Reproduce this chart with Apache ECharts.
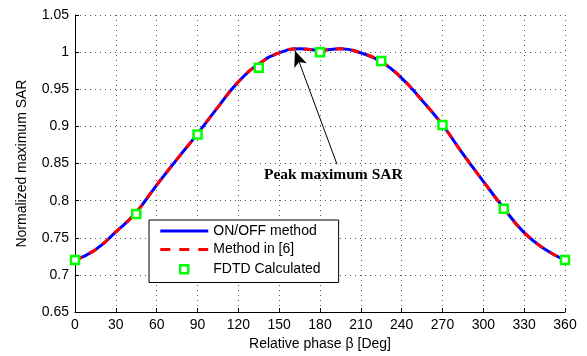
<!DOCTYPE html>
<html>
<head>
<meta charset="utf-8">
<script src="https://cdn.jsdelivr.net/npm/echarts@6/dist/echarts.min.js"></script>
<style>
  html, body { margin: 0; padding: 0; background: #fff; }
  #chart { width: 587px; height: 356px; }
</style>
</head>
<body>
<div id="chart"></div>
<script>
// relative phase (deg) for the analytic curves
const phase = [0, 15, 30, 45, 60, 75, 90, 105, 120, 135, 150, 165, 180,
  195, 210, 225, 240, 255, 270, 285, 300, 315, 330, 345, 360]
// ON/OFF method
const onOff = [0.720, 0.734, 0.758, 0.7845, 0.821, 0.856, 0.890, 0.926, 0.960, 0.984, 0.999, 1.0045, 1.0027,
  1.0045, 0.999, 0.987, 0.965, 0.935, 0.902, 0.863, 0.826, 0.790, 0.757, 0.735, 0.720]
// Method in [6] (overlaps ON/OFF)
const method6 = [0.720, 0.734, 0.758, 0.7845, 0.821, 0.856, 0.890, 0.926, 0.960, 0.984, 0.999, 1.0045, 1.0027,
  1.0045, 0.999, 0.987, 0.965, 0.935, 0.902, 0.863, 0.826, 0.790, 0.757, 0.735, 0.720]
// FDTD samples
const fdtdPhase = [0, 45, 90, 135, 180, 225, 270, 315, 360]
const fdtd = [0.720, 0.782, 0.889, 0.979, 1.000, 0.988, 0.902, 0.789, 0.720]

const xTicks = { min: 0, max: 360, interval: 30 }
const yTicks = { min: 0.65, max: 1.05, interval: 0.05 }

const font = 'Liberation Sans, Arial, sans-serif'
const chart = echarts.init(document.getElementById('chart'))

const zip = (xs, ys) => xs.map((x, i) => [x, ys[i]])

// legend icons drawn inside a 48x14 box (the M0,0 M48,14 pins the box size)
const iconSolid = 'path://M0,0 M48,14 M0,5.5 h48 v3 h-48 Z'
const iconDashed = 'path://M0,0 M48,14 M0,5.5 h10 v3 h-10 Z M19,5.5 h10 v3 h-10 Z M38,5.5 h10 v3 h-10 Z'
const iconSquare = 'path://M0,0 M48,14 M20,3 h8 v8 h-8 Z'

chart.setOption({
  animation: false,
  textStyle: { fontFamily: font, color: '#000' },
  grid: { left: 75, right: 22, top: 15, bottom: 42 },
  xAxis: {
    type: 'value',
    min: xTicks.min, max: xTicks.max, interval: xTicks.interval,
    name: 'Relative phase β [Deg]',
    nameLocation: 'middle',
    nameGap: 24,
    nameTextStyle: { fontSize: 14, color: '#000', fontFamily: font },
    axisLine: { onZero: false, lineStyle: { color: '#000', width: 1 } },
    axisTick: { inside: true, length: 4, lineStyle: { color: '#000' } },
    axisLabel: { fontSize: 14, color: '#000', margin: 6, fontFamily: font },
    splitLine: { lineStyle: { color: '#555', type: [1, 4], width: 1 } }
  },
  yAxis: {
    type: 'value',
    min: yTicks.min, max: yTicks.max, interval: yTicks.interval,
    name: 'Normalized maximum SAR',
    nameLocation: 'middle',
    nameGap: 46,
    nameTextStyle: { fontSize: 14, color: '#000', fontFamily: font },
    axisLine: { show: true, onZero: false, lineStyle: { color: '#000', width: 1 } },
    axisTick: { show: true, inside: true, length: 4, lineStyle: { color: '#000' } },
    axisLabel: {
      fontSize: 14, color: '#000', margin: 6, fontFamily: font,
      formatter: v => String(parseFloat(v.toFixed(2)))
    },
    splitLine: { lineStyle: { color: '#555', type: [1, 4], width: 1 } }
  },
  legend: {
    orient: 'vertical',
    left: 149, top: 220,
    padding: [4, 18, 5, 10],
    itemGap: 4.5,
    itemWidth: 48,
    itemHeight: 14,
    backgroundColor: '#fff',
    borderColor: '#000',
    borderWidth: 1,
    textStyle: { fontSize: 14, color: '#000', fontFamily: font },
    data: [
      { name: 'ON/OFF method', icon: iconSolid, itemStyle: { color: '#0000ff', borderWidth: 0 } },
      { name: 'Method in [6]', icon: iconDashed, itemStyle: { color: '#ff0000', borderWidth: 0 } },
      { name: 'FDTD Calculated', icon: iconSquare, itemStyle: { color: '#fff', borderColor: '#00ff00', borderWidth: 2.5 } }
    ]
  },
  series: [
    {
      name: 'ON/OFF method',
      type: 'line',
      data: zip(phase, onOff),
      smooth: true,
      symbol: 'none',
      lineStyle: { color: '#0000ff', width: 3 },
      itemStyle: { color: '#0000ff' },
      z: 2
    },
    {
      name: 'Method in [6]',
      type: 'line',
      data: zip(phase, method6),
      smooth: true,
      symbol: 'none',
      lineStyle: { color: '#ff0000', width: 3, type: [8, 8] },
      itemStyle: { color: '#ff0000' },
      z: 3
    },
    {
      name: 'FDTD Calculated',
      type: 'scatter',
      data: zip(fdtdPhase, fdtd),
      symbol: 'rect',
      symbolSize: 8,
      itemStyle: { color: '#fff', borderColor: '#00ff00', borderWidth: 2.5, opacity: 1 },
      z: 4,
      markLine: {
        silent: true,
        symbol: ['none', 'arrow'],
        symbolSize: [10, 16],
        label: { show: false },
        lineStyle: { color: '#000', width: 1, type: 'solid' },
        data: [[{ coord: [192.5, 0.849] }, { coord: [161.6, 1.002] }]]
      }
    }
  ],
  graphic: [{
    type: 'text',
    left: 264, top: 167,
    style: {
      text: 'Peak maximum SAR',
      font: 'bold 15.5px "Liberation Serif", "Times New Roman", serif',
      fill: '#000'
    },
    z: 10
  }]
})
</script>
</body>
</html>
